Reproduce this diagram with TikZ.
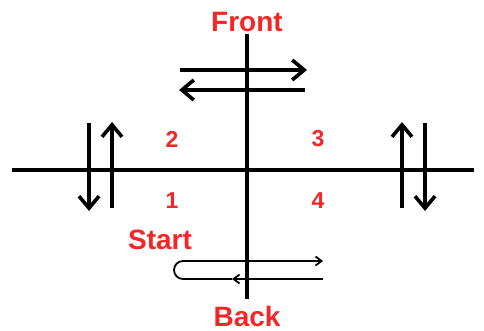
\documentclass[tikz,border=0pt]{standalone}
\usepackage{fontspec}
\setmainfont{Liberation Sans}
\usetikzlibrary{arrows.meta}
\definecolor{lblred}{RGB}{244,38,38}
\tikzset{
  axis/.style={line width=4pt, black},
  bigarrow/.style={line width=3.6pt, black, -{Straight Barb[length=12pt,width=20pt,line width=3.6pt]}},
  thinline/.style={line width=1.8pt, black},
  thinarrow/.style={thinline, -{Straight Barb[length=6pt,width=9pt,line width=1.8pt]}},
  lbl/.style={text=lblred, font=\bfseries\fontsize{28}{30}\selectfont, inner sep=0pt},
  num/.style={text=lblred, font=\bfseries\fontsize{23}{25}\selectfont, inner sep=0pt}
}
\begin{document}
\begin{tikzpicture}[x=1pt,y=-1pt]
\useasboundingbox (0,0) rectangle (484,331);
\fill[white] (0,0) rectangle (484,331);
% axes
\coordinate (hl) at (12,170);
\coordinate (hr) at (474,170);
\coordinate (vt) at (247,34);
\coordinate (vb) at (247,299);
\draw[axis] (hl) -- (hr);
\draw[axis] (vt) -- (vb);
% labels
\node[lbl] (front) at (247,22) {Front};
\node[lbl] (back) at (247,316) {Back};
\node[lbl] (start) at (160,240) {Start};
\node[num] (n2) at (172,139) {2};
\node[num] (n3) at (318,139) {3};
\node[num] (n1) at (172,201) {1};
\node[num] (n4) at (318,201) {4};
% front arrows
\coordinate (fa1s) at (180,70);
\coordinate (fa1e) at (307,70);
\coordinate (fa2s) at (305,90);
\coordinate (fa2e) at (179,90);
\draw[bigarrow] (fa1s) -- (fa1e);
\draw[bigarrow] (fa2s) -- (fa2e);
% left arrows
\coordinate (ld1s) at (89,123);
\coordinate (ld1e) at (89,211);
\coordinate (lu1s) at (112,208);
\coordinate (lu1e) at (112,122);
\draw[bigarrow] (ld1s) -- (ld1e);
\draw[bigarrow] (lu1s) -- (lu1e);
% right arrows
\coordinate (ru1s) at (402,208);
\coordinate (ru1e) at (402,122);
\coordinate (rd1s) at (425,123);
\coordinate (rd1e) at (425,211);
\draw[bigarrow] (ru1s) -- (ru1e);
\draw[bigarrow] (rd1s) -- (rd1e);
% U-turn arrows
\coordinate (ua) at (323,279);
\coordinate (ub) at (232,279);
\coordinate (uc) at (183,279);
\coordinate (ud) at (183,261);
\coordinate (ue) at (323,261);
\draw[thinline] (ub) -- (uc) arc[start angle=270, end angle=90, radius=9pt] -- (ud);
\draw[thinarrow] (ud) -- (ue);
\draw[thinarrow] (ua) -- (ub);
\end{tikzpicture}
\end{document}
